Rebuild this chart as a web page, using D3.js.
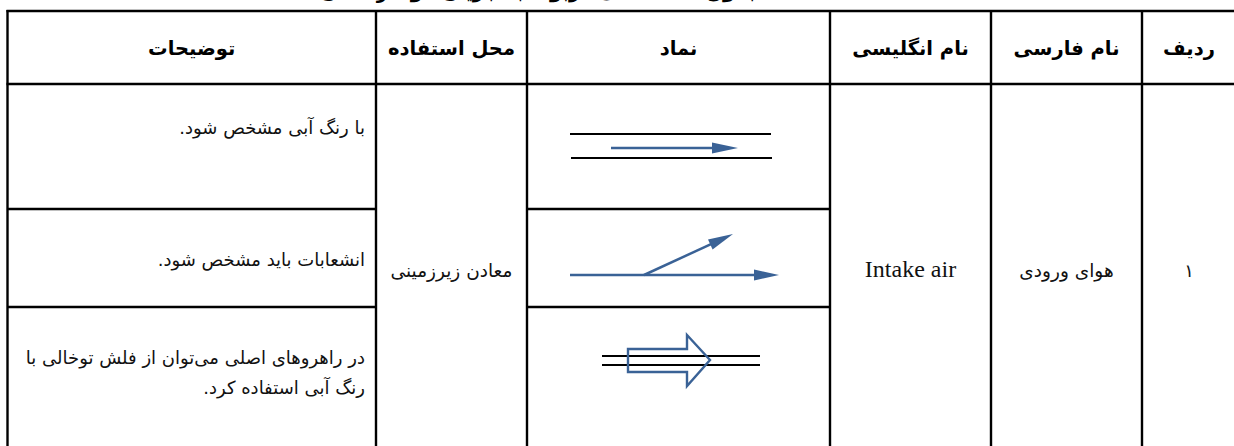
<!DOCTYPE html>
<html><head><meta charset="utf-8">
<script src="https://cdn.jsdelivr.net/npm/d3@7"></script>
<style>html,body{margin:0;padding:0;background:#fff;overflow:hidden}</style>
</head><body><svg id="c" width="1234" height="446"></svg>
<script>
// ---- data ----
const title = "جدول ۱- نمادهای مربوط به جریان هوا در معدن";
const headers = ["ردیف", "نام فارسی", "نام انگلیسی", "نماد", "محل استفاده", "توضیحات"];
const rowNumbers = ["۱"];
const persianNames = ["هوای ورودی"];
const englishNames = ["Intake air"];
const usages = ["معادن زیرزمینی"];
const symbolTypes = ["lane", "branch", "hollow"];
const descriptions = [
  ["با رنگ آبی مشخص شود."],
  ["انشعابات باید مشخص شود."],
  ["در راهروهای اصلی می‌توان از فلش توخالی با", "رنگ آبی استفاده کرد."]
];

// ---- layout ----
const BLUE = "#3a6296";
const colWidths = [94, 151, 161, 303, 151, 368.5]; // right to left
const rightEdge = 1236;
const rowEdges = [11, 84, 209, 307, 456];
const colEdges = [rightEdge].concat(Array.from(d3.cumsum(colWidths), c => rightEdge - c));
const colX = d3.scaleOrdinal().domain(d3.range(6)).range(d3.range(6).map(i => [colEdges[i + 1], colEdges[i]]));
const colMid = i => (colX(i)[0] + colX(i)[1]) / 2;

const svg = d3.select("#c");
const fa = "'DejaVu Sans', sans-serif";

// title (cut by top edge, as in the reference)
svg.append("text").attr("x", 540).attr("y", -2).attr("text-anchor", "middle")
  .attr("direction", "rtl").attr("font-family", fa).attr("font-weight", "bold")
  .attr("font-size", 19).text(title);

// header
svg.selectAll("text.h").data(headers).join("text").attr("class", "h")
  .attr("x", (d, i) => colMid(i)).attr("y", 55)
  .attr("text-anchor", "middle").attr("direction", "rtl")
  .attr("font-family", fa).attr("font-weight", "bold").attr("font-size", 19.5)
  .text(d => d);

// merged cells
const merged = [
  {col: 0, text: rowNumbers[0], font: fa, size: 18},
  {col: 1, text: persianNames[0], font: fa, size: 18.5},
  {col: 2, text: englishNames[0], font: "'Liberation Serif', serif", size: 24},
  {col: 4, text: usages[0], font: fa, size: 18.5}
];
svg.selectAll("text.m").data(merged).join("text").attr("class", "m")
  .attr("x", d => colMid(d.col)).attr("y", 277)
  .attr("text-anchor", "middle").attr("direction", d => d.col === 2 ? "ltr" : "rtl")
  .attr("font-family", d => d.font).attr("font-size", d => d.size).attr("fill", "#111")
  .text(d => d.text);

// descriptions
const descBase = [134, 266, 364];
descriptions.forEach((lines, r) => {
  lines.forEach((ln, k) => {
    svg.append("text").attr("x", colX(5)[1] - 11).attr("y", descBase[r] + k * 30)
      .attr("direction", "rtl").attr("text-anchor", "start")
      .attr("font-family", fa).attr("font-size", 18).attr("fill", "#111").text(ln);
  });
});

// symbols in local coordinates of the symbol cell
const symbolDefs = {
  lane: {
    lines: [[[43, 50], [244, 50]], [[44, 74], [245, 74]]],
    arrows: [{from: [84, 64], to: [211, 64], len: 26, half: 5.5}],
    polys: []
  },
  branch: {
    lines: [],
    arrows: [{from: [43, 66], to: [252, 66], len: 25, half: 5.5},
             {from: [117, 66], to: [206, 25], len: 25, half: 5.5}],
    polys: []
  },
  hollow: {
    lines: [[[75, 49], [233, 49]], [[75, 58], [233, 58]]],
    arrows: [],
    polys: [[[101, 42], [160, 42], [160, 28], [183, 53], [160, 79], [160, 65], [101, 65]]]
  }
};

symbolTypes.forEach((t, r) => {
  const [x0, x1] = colX(3);
  const sx = d3.scaleLinear().domain([0, x1 - x0]).range([x0, x1]);
  const sy = d3.scaleLinear().domain([0, rowEdges[r + 2] - rowEdges[r + 1]]).range([rowEdges[r + 1], rowEdges[r + 2]]);
  const def = symbolDefs[t];
  const g = svg.append("g");
  const line = d3.line().x(p => sx(p[0])).y(p => sy(p[1]));
  def.lines.forEach(l => g.append("path").attr("d", line(l)).attr("stroke", "#000").attr("stroke-width", 2).attr("fill", "none"));
  def.polys.forEach(p => g.append("path").attr("d", line(p) + "Z").attr("stroke", BLUE).attr("stroke-width", 2.4).attr("fill", "none").attr("stroke-linejoin", "miter"));
  def.arrows.forEach(a => {
    const fx = sx(a.from[0]), fy = sy(a.from[1]), tx = sx(a.to[0]), ty = sy(a.to[1]);
    const L = Math.hypot(tx - fx, ty - fy), ux = (tx - fx) / L, uy = (ty - fy) / L;
    const bx = tx - ux * a.len, by = ty - uy * a.len;
    g.append("line").attr("x1", fx).attr("y1", fy).attr("x2", bx + ux * 2).attr("y2", by + uy * 2)
      .attr("stroke", BLUE).attr("stroke-width", 2.5);
    g.append("path").attr("d", `M${tx},${ty}L${bx - uy * a.half},${by + ux * a.half}L${bx + uy * a.half},${by - ux * a.half}Z`)
      .attr("fill", BLUE);
  });
});

// grid lines
const gl = svg.append("g").attr("stroke", "#000").attr("stroke-width", 2.4);
[rowEdges[0], rowEdges[1]].forEach(y => gl.append("line").attr("x1", colEdges[6] - 1).attr("x2", rightEdge).attr("y1", y).attr("y2", y));
// sub-row lines only across the description and symbol columns
[rowEdges[2], rowEdges[3]].forEach(y => {
  [5, 3].forEach(c => gl.append("line").attr("x1", colX(c)[0]).attr("x2", colX(c)[1]).attr("y1", y).attr("y2", y));
});
colEdges.forEach(x => gl.append("line").attr("x1", x).attr("x2", x).attr("y1", rowEdges[0] - 1).attr("y2", rowEdges[4]));
</script>
</body></html>
